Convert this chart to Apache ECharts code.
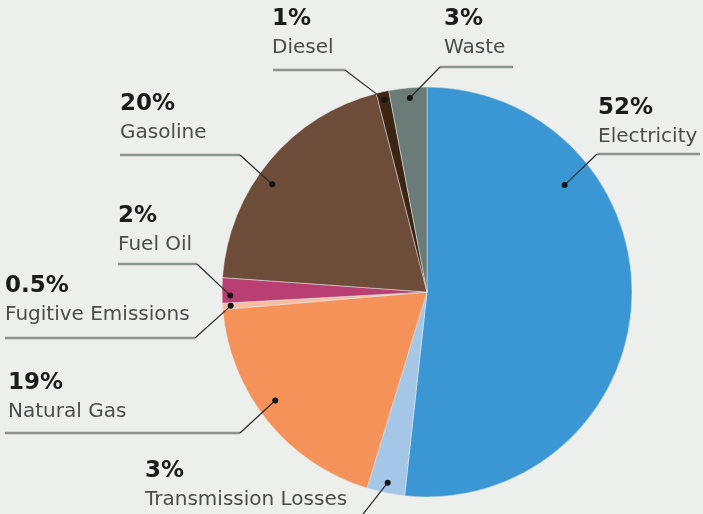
<!DOCTYPE html>
<html><head><meta charset="utf-8">
<script src="https://cdn.jsdelivr.net/npm/echarts@6/dist/echarts.min.js"></script>
<style>html,body{margin:0;padding:0;background:#edefec}#c{width:703px;height:514px}</style>
</head><body><div id="c"></div>
<script>
// ---- data ----
const categories = ['Electricity','Transmission Losses','Natural Gas','Fugitive Emissions','Fuel Oil','Gasoline','Diesel','Waste'];
const shares = [52, 3, 19, 0.5, 2, 20, 1, 3];
const colors = ['#3b97d3','#a4c7e7','#f5925a','#f8bda2','#b93f72','#6e4c3a','#3d2513','#6b7c78'];

// ---- layout ----
const CX = 427, CY = 292, R = 205;
// label top-left positions
const labelPos = [[598,93],[145,456],[8,368],[5,271],[118,201],[120,89],[272,4],[444,4]];
// underline: x1, x2, y, corner side
const underline = [[597,700,154,'L'],[145,360,518,'R'],[5,240,433,'R'],[5,195,338,'R'],[118,197,264,'R'],[120,240,155,'R'],[273,345,70,'R'],[440,513,67,'L']];
// anchor of leader dot inside slice: fraction along slice, radius ratio
const anchor = [[0.28,0.85],[0.5,0.95],[0.55,0.91],[0.5,0.96],[0.3,0.96],[0.43,0.92],[0.5,0.96],[0.53,0.95]];

const total = shares.reduce((a,b)=>a+b,0);
const dots = [];
let acc = 0;
shares.forEach((v,i)=>{
  const a0 = acc/total*360, a1 = (acc+v)/total*360;
  acc += v;
  const ang = (a0 + anchor[i][0]*(a1-a0)) * Math.PI/180;
  const r = anchor[i][1]*R;
  dots.push([CX + r*Math.sin(ang), CY - r*Math.cos(ang)]);
});
const corners = underline.map(u => [u[3]==='L'?u[0]:u[1], u[2]]);

const graphics = [];
underline.forEach(u=>{
  graphics.push({type:'line', z:100, shape:{x1:u[0],y1:u[2],x2:u[1],y2:u[2]}, style:{stroke:'#8c928e', lineWidth:2.5}});
});
dots.forEach((d,i)=>{
  graphics.push({type:'line', z:101, shape:{x1:d[0],y1:d[1],x2:corners[i][0],y2:corners[i][1]}, style:{stroke:'#2a2a2a', lineWidth:1.2}});
  graphics.push({type:'circle', z:102, shape:{cx:d[0],cy:d[1],r:3}, style:{fill:'#151515'}});
});

const chart = echarts.init(document.getElementById('c'), null, {renderer:'canvas'});
chart.setOption({
  backgroundColor:'#edefec',
  animation:false,
  graphic: graphics,
  series:[{
    type:'pie',
    center:[CX, CY],
    radius:R,
    startAngle:90,
    clockwise:true,
    avoidLabelOverlap:false,
    data: categories.map((c,i)=>({name:c, value:shares[i], itemStyle:{color:colors[i]}})),
    itemStyle:{borderColor:'#e4e8e6', borderWidth:0.5},
    emphasis:{disabled:true},
    label:{
      show:true,
      position:'outside',
      formatter: p => '{p|' + p.value + '%}\n{n|' + p.name + '}',
      rich:{
        p:{fontFamily:'DejaVu Sans', fontWeight:'bold', fontSize:23, lineHeight:30, color:'#1b1b1b'},
        n:{fontFamily:'DejaVu Sans', fontSize:20, lineHeight:28, color:'#4c4c4c'}
      }
    },
    labelLine:{show:false},
    labelLayout: function(params){
      const i = params.dataIndex;
      return { x: labelPos[i][0], y: labelPos[i][1], align:'left', verticalAlign:'top' };
    }
  }]
});
</script></body></html>
